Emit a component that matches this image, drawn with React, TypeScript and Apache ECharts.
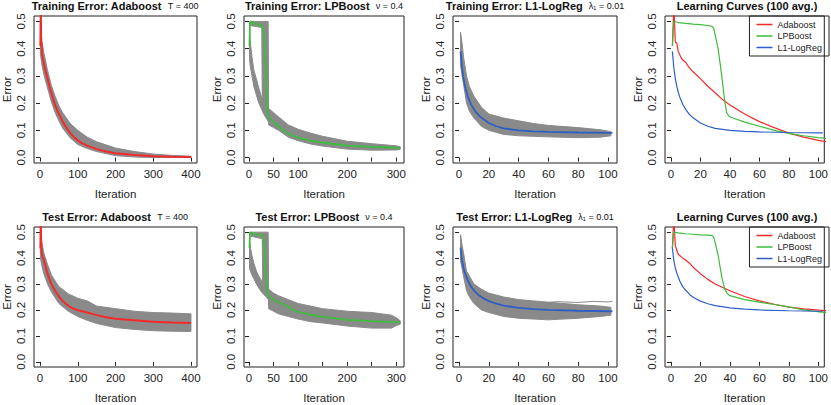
import React, { useEffect, useRef } from "react";
import * as echarts from "echarts";

// ---------- data ----------
const legendNames = ["Adaboost", "LPBoost", "L1-LogReg"];

const topTitles = ["Training Error: Adaboost", "Training Error: LPBoost", "Training Error: L1-LogReg", "Learning Curves (100 avg.)"];
const bottomTitles = ["Test Error: Adaboost", "Test Error: LPBoost", "Test Error: L1-LogReg", "Learning Curves (100 avg.)"];
const paramTexts = ["T = 400", "ν = 0.4", "λ₁ = 0.01", ""];

const yTicks = [0, 0.1, 0.2, 0.3, 0.4, 0.5];
const xTicksAda = [0, 100, 200, 300, 400];
const xTicksLp = [0, 50, 100, 150, 200, 250, 300];
const xLabelsLp = [0, 50, 100, 200, 300];
const xTicksL1 = [0, 20, 40, 60, 80, 100];

// mean curves [iteration, error]
const adaTrainMean = [[1,0.41],[2,0.56],[3,0.425],[4,0.42],[5,0.39],[6,0.378],[7,0.366],[8,0.358],[10,0.35],[12,0.333],[15,0.315],[20,0.29],[25,0.262],[30,0.238],[35,0.213],[40,0.193],[50,0.16],[60,0.132],[70,0.11],[80,0.09],[90,0.075],[100,0.063],[110,0.054],[125,0.044],[150,0.031],[175,0.022],[200,0.016],[250,0.009],[300,0.005],[350,0.003],[400,0.002]];
const adaTestMean = [[1,0.437],[2,0.56],[3,0.449],[4,0.43],[5,0.415],[6,0.41],[8,0.4],[10,0.393],[13,0.378],[16,0.36],[20,0.34],[25,0.318],[30,0.3],[40,0.274],[50,0.252],[60,0.235],[70,0.222],[80,0.211],[90,0.204],[100,0.199],[125,0.19],[150,0.18],[175,0.172],[200,0.166],[250,0.16],[300,0.155],[350,0.152],[400,0.15]];
const lpTrainMean = [[1,0.41],[2,0.5],[5,0.496],[10,0.493],[15,0.49],[20,0.488],[25,0.485],[28,0.482],[29,0.475],[30,0.45],[32,0.4],[34.5,0.3],[36.3,0.214],[37.8,0.165],[39.6,0.15],[45,0.14],[50,0.13],[60,0.115],[70,0.1],[80,0.089],[90,0.08],[100,0.073],[125,0.062],[150,0.055],[200,0.044],[250,0.039],[300,0.036],[308,0.035]];
const lpTestMean = [[1,0.44],[2,0.5],[5,0.497],[10,0.494],[15,0.492],[20,0.49],[25,0.489],[28,0.487],[29,0.48],[30,0.46],[32,0.412],[34.5,0.327],[36.3,0.284],[38,0.265],[40,0.255],[50,0.24],[60,0.23],[70,0.221],[80,0.212],[90,0.2],[100,0.193],[125,0.182],[150,0.173],[200,0.162],[250,0.157],[300,0.153],[308,0.152]];
const l1TrainMean = [[1,0.39],[2,0.33],[3,0.29],[4,0.262],[5,0.24],[6,0.222],[8,0.196],[10,0.177],[12,0.162],[15,0.146],[20,0.127],[25,0.115],[30,0.107],[40,0.1],[50,0.096],[60,0.094],[80,0.092],[100,0.091],[103,0.091]];
const l1TestMean = [[1,0.44],[2,0.39],[3,0.362],[4,0.342],[6,0.312],[8,0.29],[10,0.276],[13,0.258],[16,0.246],[20,0.234],[25,0.224],[30,0.217],[40,0.208],[50,0.203],[60,0.2],[80,0.197],[100,0.195],[103,0.195]];

// spread of the 100 individual runs [iteration, low, high]
const adaTrainBand = [[1,0.38,0.5],[3,0.36,0.46],[5,0.34,0.425],[10,0.305,0.385],[20,0.255,0.32],[30,0.205,0.265],[40,0.165,0.225],[50,0.135,0.19],[60,0.108,0.165],[80,0.072,0.125],[100,0.048,0.1],[125,0.033,0.075],[150,0.022,0.058],[200,0.007,0.035],[250,0.002,0.022],[300,0,0.013],[350,0,0.008],[400,0,0.005]];
const adaTestBand = [[1,0.4,0.5],[5,0.37,0.46],[10,0.34,0.42],[20,0.3,0.375],[30,0.27,0.335],[50,0.225,0.29],[75,0.195,0.262],[100,0.175,0.245],[125,0.16,0.235],[150,0.148,0.215],[200,0.132,0.205],[250,0.125,0.195],[300,0.12,0.19],[350,0.118,0.188],[400,0.117,0.185]];
const lpTrainTop = [[2,0.485,0.5],[26,0.478,0.5],[27,0.22,0.5],[39,0.15,0.5],[40,0.14,0.2]];
const lpTrainEarly = [[1,0.36,0.46],[3,0.33,0.42],[6,0.3,0.37],[10,0.26,0.32],[15,0.23,0.29],[20,0.2,0.255],[25,0.18,0.225],[30,0.16,0.205],[35,0.145,0.19],[40,0.13,0.175]];
const lpTrainLate = [[40,0.12,0.18],[50,0.11,0.165],[60,0.1,0.15],[80,0.075,0.12],[100,0.062,0.104],[125,0.05,0.09],[150,0.042,0.078],[200,0.031,0.06],[250,0.027,0.051],[300,0.028,0.043],[308,0.03,0.04]];
const lpTestTop = [[2,0.485,0.5],[27,0.475,0.5],[28,0.28,0.5],[39,0.25,0.5],[40,0.22,0.28]];
const lpTestEarly = [[1,0.36,0.47],[3,0.35,0.44],[6,0.335,0.41],[10,0.32,0.38],[15,0.3,0.35],[20,0.285,0.33],[25,0.27,0.315],[30,0.26,0.305],[35,0.25,0.295],[40,0.24,0.285]];
const lpTestLate = [[40,0.205,0.28],[50,0.195,0.265],[60,0.185,0.255],[80,0.175,0.24],[100,0.165,0.225],[125,0.155,0.215],[150,0.15,0.205],[200,0.138,0.195],[250,0.13,0.19],[290,0.13,0.18],[300,0.14,0.17],[308,0.145,0.158]];
const l1TrainBand = [[1,0.34,0.46],[2,0.3,0.42],[3,0.27,0.37],[5,0.2,0.3],[7,0.17,0.26],[10,0.145,0.225],[15,0.115,0.185],[20,0.1,0.16],[30,0.085,0.145],[40,0.08,0.135],[50,0.078,0.125],[60,0.076,0.118],[80,0.073,0.11],[95,0.075,0.102],[102,0.08,0.095]];
const l1TestBand = [[1,0.39,0.49],[2,0.36,0.45],[3,0.33,0.42],[5,0.275,0.35],[7,0.25,0.33],[10,0.225,0.3],[15,0.2,0.28],[20,0.19,0.265],[30,0.175,0.25],[40,0.168,0.24],[50,0.165,0.235],[60,0.162,0.23],[80,0.168,0.22],[95,0.175,0.215],[102,0.18,0.21]];
const l1TestOutlier = [[55,0.226],[65,0.232],[80,0.229],[90,0.233],[100,0.231],[103,0.233]];

// ---------- layout / style ----------
const FONT = "'Liberation Sans', Arial, Helvetica, sans-serif";
const RED = "#f42a2a";
const GREEN = "#3dbd3d";
const BLUE = "#2e5fc4";
const GRAY = "#8a8a8a";

const COLS = [
  { left: 33, width: 164, min: -16, max: 416, ticks: xTicksAda, labels: xTicksAda },
  { left: 244, width: 160, min: -10.2, max: 315.7, ticks: xTicksLp, labels: xLabelsLp },
  { left: 453, width: 164, min: -4.08, max: 106.08, ticks: xTicksL1, labels: xTicksL1 },
  { left: 665, width: 164, min: -4, max: 104, ticks: xTicksL1, labels: xTicksL1 },
];
const ROWS = [{ top: 16, height: 147 }, { top: 227, height: 147 }];

function bandSeries(band: number[][], idx: number, color = GRAY) {
  return {
    type: "custom",
    xAxisIndex: idx,
    yAxisIndex: idx,
    silent: true,
    data: band,
    encode: { x: 0, y: [1, 2] },
    renderItem: (params: any, api: any) => {
      if (params.dataIndex !== 0) return null;
      const top = band.map((r) => api.coord([r[0], r[2]]));
      const bot = band.map((r) => api.coord([r[0], r[1]])).reverse();
      return {
        type: "polygon",
        shape: { points: top.concat(bot) },
        style: { fill: color, stroke: color, lineWidth: 1 },
      };
    },
  };
}

function lineSeries(data: number[][], idx: number, color: string, width: number, name?: string) {
  return {
    type: "line",
    name,
    xAxisIndex: idx,
    yAxisIndex: idx,
    data,
    symbol: "none",
    silent: true,
    clip: true,
    lineStyle: { color, width },
    itemStyle: { color },
  };
}

function buildOption() {
  const grid: any[] = [];
  const xAxis: any[] = [];
  const yAxis: any[] = [];
  const title: any[] = [];
  ROWS.forEach((row, r) => {
    COLS.forEach((col, c) => {
      const i = r * 4 + c;
      grid.push({
        left: col.left, top: row.top, width: col.width, height: row.height,
        show: true, borderColor: "#222", borderWidth: 1, backgroundColor: "transparent",
      });
      xAxis.push({
        type: "value", gridIndex: i, min: col.min, max: col.max,
        axisLine: { show: false }, splitLine: { show: false },
        axisTick: { show: true, length: 4, lineStyle: { color: "#222" }, customValues: col.ticks },
        axisLabel: { customValues: col.labels, fontSize: 11.5, color: "#222", margin: 5, fontFamily: FONT },
        name: "Iteration", nameLocation: "middle", nameGap: 25,
        nameTextStyle: { fontSize: 11.5, color: "#222", fontFamily: FONT },
      });
      yAxis.push({
        type: "value", gridIndex: i, min: -0.02, max: 0.52,
        axisLine: { show: false }, splitLine: { show: false },
        axisTick: { show: true, length: 4, lineStyle: { color: "#222" }, customValues: yTicks },
        axisLabel: {
          customValues: yTicks, rotate: 90, fontSize: 11.5, color: "#222", margin: 7, fontFamily: FONT,
          formatter: (v: number) => v.toFixed(1),
        },
        name: "Error", nameLocation: "middle", nameGap: 21, nameRotate: 90,
        nameTextStyle: { fontSize: 11.5, color: "#222", fontFamily: FONT },
      });
      const main = (r === 0 ? topTitles : bottomTitles)[c];
      const extra = paramTexts[c];
      title.push({
        text: extra ? `{b|${main}  }{n|${extra}}` : `{b|${main}}`,
        left: col.left + col.width / 2,
        top: row.top - 16,
        textAlign: "center",
        padding: 0,
        textStyle: {
          rich: {
            b: { fontSize: 11, fontWeight: "bold", color: "#111", fontFamily: FONT, lineHeight: 11 },
            n: { fontSize: 9, fontWeight: "normal", color: "#111", fontFamily: FONT, lineHeight: 11 },
          },
        },
      });
    });
  });

  const series: any[] = [
    // training row
    bandSeries(adaTrainBand, 0),
    lineSeries(adaTrainMean, 0, RED, 2),
    bandSeries(lpTrainTop, 1),
    bandSeries(lpTrainEarly, 1),
    bandSeries(lpTrainLate, 1),
    lineSeries(lpTrainMean, 1, GREEN, 1.8),
    bandSeries(l1TrainBand, 2),
    lineSeries(l1TrainMean, 2, BLUE, 1.8),
    lineSeries(adaTrainMean, 3, RED, 1.2, legendNames[0]),
    lineSeries(lpTrainMean, 3, GREEN, 1.2, legendNames[1]),
    lineSeries(l1TrainMean, 3, BLUE, 1.2, legendNames[2]),
    // test row
    bandSeries(adaTestBand, 4),
    lineSeries(adaTestMean, 4, RED, 2),
    bandSeries(lpTestTop, 5),
    bandSeries(lpTestEarly, 5),
    bandSeries(lpTestLate, 5),
    lineSeries(lpTestMean, 5, GREEN, 1.8),
    bandSeries(l1TestBand, 6),
    lineSeries(l1TestOutlier, 6, GRAY, 1),
    lineSeries(l1TestMean, 6, BLUE, 1.8),
    lineSeries(adaTestMean, 7, RED, 1.2, legendNames[0]),
    lineSeries(lpTestMean, 7, GREEN, 1.2, legendNames[1]),
    lineSeries(l1TestMean, 7, BLUE, 1.2, legendNames[2]),
  ];

  const legendBase = {
    data: legendNames,
    orient: "vertical",
    right: 2,
    icon: "rect",
    itemWidth: 16,
    itemHeight: 1.5,
    itemGap: 2.5,
    padding: [4, 7, 4, 7],
    borderColor: "#222",
    borderWidth: 1,
    borderRadius: 0,
    selectedMode: false,
    textStyle: { fontSize: 9, color: "#222", fontFamily: FONT },
  };

  return {
    animation: false,
    backgroundColor: "#fff",
    textStyle: { fontFamily: FONT },
    title,
    grid,
    xAxis,
    yAxis,
    legend: [
      { ...legendBase, top: ROWS[0].top },
      { ...legendBase, top: ROWS[1].top },
    ],
    series,
  };
}

export default function App() {
  const ref = useRef<HTMLDivElement>(null);
  useEffect(() => {
    document.body.style.margin = "0";
    if (!ref.current) return;
    const chart = echarts.init(ref.current, undefined, { renderer: "svg" });
    chart.setOption(buildOption() as any);
    return () => chart.dispose();
  }, []);
  return <div ref={ref} style={{ width: 831, height: 405 }} />;
}
